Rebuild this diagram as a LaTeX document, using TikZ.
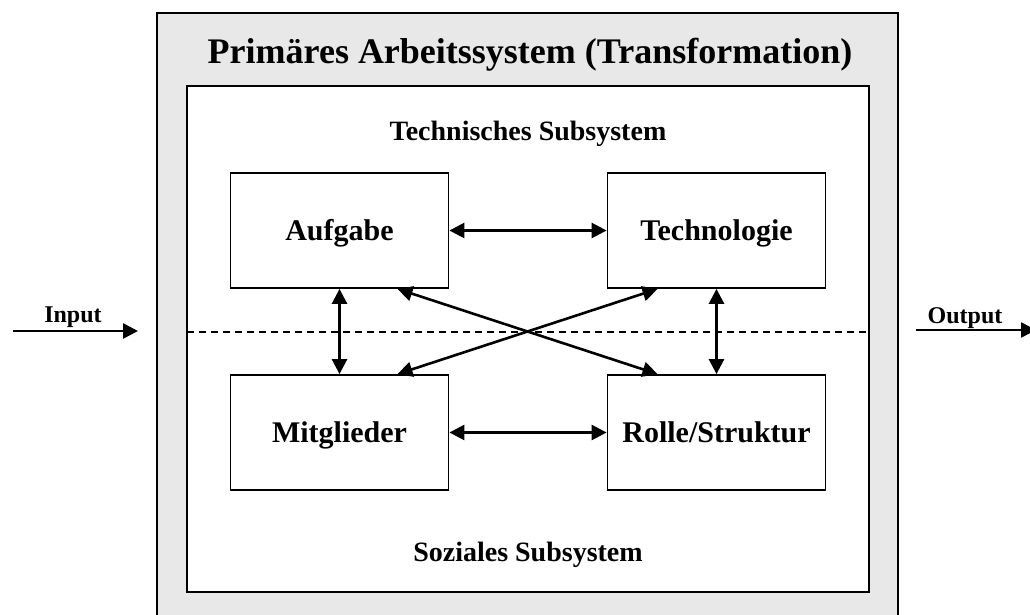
\documentclass[tikz,border=0pt]{standalone}
\usepackage{fontspec}
\setmainfont{Liberation Serif}
\usetikzlibrary{arrows.meta,calc}
\definecolor{panelgray}{HTML}{E8E8E8}
\begin{document}
\begin{tikzpicture}[x=1pt,y=-1pt,
  frame/.style={draw=black, line width=2pt},
  unit/.style={draw=black, line width=1.8pt, fill=white,
    minimum width=218pt, minimum height=115pt, inner sep=0pt,
    text height=20pt, text depth=0pt,
    font=\bfseries\fontsize{30}{36}\selectfont},
  link/.style={line width=2.6pt,
    {Triangle[length=15pt,width=15pt]}-{Triangle[length=15pt,width=15pt]}},
  flow/.style={line width=2.6pt, -{Triangle[length=15pt,width=15pt]}},
  titletext/.style={anchor=base, font=\bfseries\fontsize{36}{42}\selectfont},
  subtext/.style={anchor=base, font=\bfseries\fontsize{28}{34}\selectfont},
  iotext/.style={anchor=base, font=\bfseries\fontsize{24}{28}\selectfont},
]
\useasboundingbox (0,0) rectangle (1030,615);
\fill[white] (0,0) rectangle (1030,615);

% primary work system and its inner field
\draw[frame, fill=panelgray] (157,13) rectangle (898,640);
\draw[frame, fill=white] (187,86) rectangle (869,592);

% boundary between technical and social subsystem
\coordinate (divL) at (187,332);
\coordinate (divR) at (869,332);
\draw[line width=1.4pt, dash pattern=on 7pt off 5pt] (divL) -- (divR);

% headings
\node[titletext] (title) at (530,64) {Primäres Arbeitssystem (Transformation)};
\node[subtext] (tech) at (528,140) {Technisches Subsystem};
\node[subtext] (soz) at (528,561) {Soziales Subsystem};

% the four components
\node[unit] (auf) at (339.5,230.5) {Aufgabe};
\node[unit] (tec) at (716.5,230.5) {Technologie};
\node[unit] (mit) at (339.5,432.5) {Mitglieder};
\node[unit] (rol) at (716.5,432.5) {Rolle/Struktur};

% mutual relations
\draw[link] (auf.east) -- (tec.west);
\draw[link] (mit.east) -- (rol.west);
\draw[link] (auf.south) -- (mit.north);
\draw[link] (tec.south) -- (rol.north);
\draw[link] ($(auf.south)+(58,0)$) -- ($(rol.north)+(-59,0)$);
\draw[link] ($(tec.south)+(-59,0)$) -- ($(mit.north)+(58,0)$);

% input and output
\coordinate (inA) at (13,331);
\coordinate (inB) at (138,331);
\coordinate (outA) at (916,330);
\coordinate (outB) at (1036,330);
\draw[flow] (inA) -- (inB);
\draw[flow] (outA) -- (outB);
\node[iotext] (inlabel) at (73,322) {Input};
\node[iotext] (outlabel) at (965,323) {Output};
\end{tikzpicture}
\end{document}
